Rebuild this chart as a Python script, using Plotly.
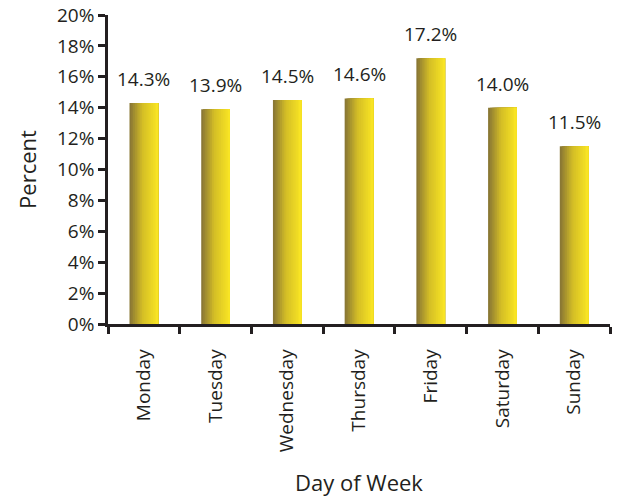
import plotly.graph_objects as go

# Share of events by day of week
days = ['Monday', 'Tuesday', 'Wednesday', 'Thursday', 'Friday', 'Saturday', 'Sunday']
percent = [14.3, 13.9, 14.5, 14.6, 17.2, 14.0, 11.5]
y_ticks = list(range(0, 21, 2))

# left-to-right shading of the bars (dark olive -> bright yellow)
dark = (138, 120, 52)
mid = (212, 190, 38)
light = (248, 228, 36)
n_steps = 16
bar_width = 0.4

fig = go.Figure()

def shade(t):
    if t < 0.45:
        a, b, u = dark, mid, t / 0.45
    else:
        a, b, u = mid, light, (t - 0.45) / 0.55
    return 'rgb(%d,%d,%d)' % tuple(round(a[i] + (b[i] - a[i]) * u) for i in range(3))

step = bar_width / n_steps
for k in range(n_steps):
    w = bar_width - k * step
    fig.add_trace(go.Bar(
        x=days,
        y=percent,
        width=w,
        offset=-bar_width / 2 + k * step,
        marker=dict(color=shade(k / (n_steps - 1)), line=dict(width=0)),
        showlegend=False,
        hoverinfo='skip' if k else 'x+y',
    ))

# value labels above the bars
for d, v in zip(days, percent):
    fig.add_annotation(
        x=d, y=v, text=f'{v:.1f}%',
        showarrow=False, yanchor='bottom', yshift=9,
        font=dict(size=19, color='#231f20'),
    )

fig.update_layout(
    width=623,
    height=501,
    barmode='overlay',
    plot_bgcolor='white',
    paper_bgcolor='white',
    font=dict(family='Open Sans, Noto Sans, sans-serif', color='#231f20', size=19),
    margin=dict(l=108, r=13, t=15, b=177),
    xaxis=dict(
        title=dict(text='Day of Week', font=dict(size=22), standoff=25),
        tickangle=-90,
        tickson='boundaries',
        ticks='outside',
        ticklen=7,
        tickwidth=2.5,
        tickcolor='#231f20',
        showline=True,
        linecolor='#231f20',
        linewidth=2.5,
        showgrid=False,
        ticklabelstandoff=15,
        automargin=False,
    ),
    yaxis=dict(
        title=dict(text='Percent', font=dict(size=22)),
        range=[0, 20],
        tickvals=y_ticks,
        ticktext=[f'{v}%' for v in y_ticks],
        ticks='outside',
        ticklen=7,
        tickwidth=2.5,
        tickcolor='#231f20',
        showline=True,
        linecolor='#231f20',
        linewidth=2.5,
        showgrid=False,
        zeroline=False,
        automargin=False,
        ticklabeloverflow='allow',
    ),
)

# drop the default page margin so the figure sits at the window's corner
fig.write_html('out.html', config={'displayModeBar': False},
               post_script="document.body.style.margin='0';")
